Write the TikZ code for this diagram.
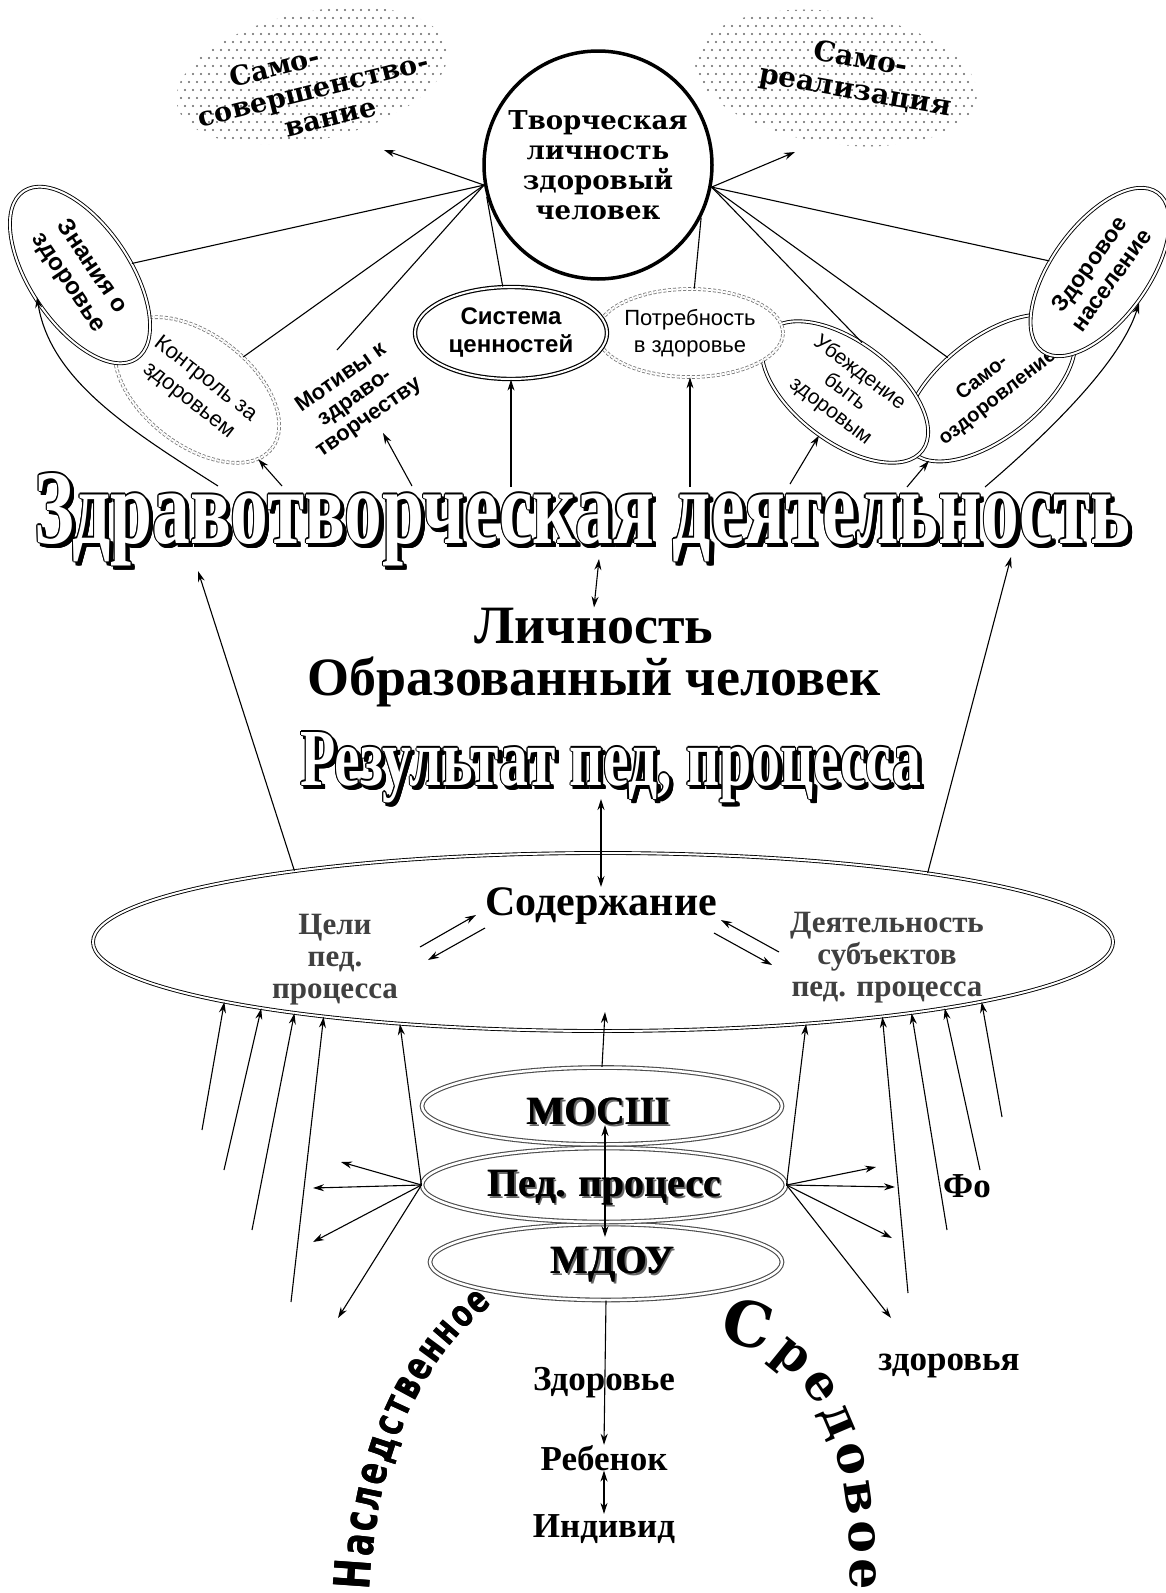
\documentclass[tikz,border=0pt]{standalone}
\usepackage{graphicx}
\usepackage{fontspec}
\setmainfont{Liberation Serif}
\newfontfamily\sansf{Liberation Sans}
\newfontfamily\bookf{DejaVu Serif}
\newfontfamily\condf[FakeStretch=0.72]{DejaVu Sans}
\usetikzlibrary{arrows.meta,shapes.geometric,decorations.text}
\newcommand\fsz[1]{\fontsize{#1}{#1}\selectfont}
\newcommand\fszl[2]{\fontsize{#1}{#2}\selectfont}
\newcommand\arcf[1]{\bookf\bfseries\fontsize{#1}{#1}\selectfont}
\newcommand\arcs[1]{\condf\bfseries\fontsize{#1}{#1}\selectfont}
% outlined text with drop shadow: #1 name, #2 position, #3 anchor, #4 content
\newcommand\wordart[4]{%
  \foreach \dx/\dy in {2/2,3/3,4/4,4.5/4.5,2/4,4/2,3/4.5,4.5/3}{%
    \node[anchor=#3,inner sep=0pt,text=black,shift={(\dx,\dy)}] at (#2) {#4};}%
  \foreach \dx/\dy in {1.2/0,-1.2/0,0/1.2,0/-1.2,0.85/0.85,-0.85/0.85,0.85/-0.85,-0.85/-0.85}{%
    \node[anchor=#3,inner sep=0pt,text=black,shift={(\dx,\dy)}] at (#2) {#4};}%
  \node[anchor=#3,inner sep=0pt,text=white] (#1) at (#2) {#4};}
\newcommand\shtext[4]{%
  \node[anchor=#3,inner sep=0pt,text=black!60,shift={(2.5,2.5)}] at (#2) {#4};
  \node[anchor=#3,inner sep=0pt,text=black,shift={(0.7,0)}] at (#2) {#4};
  \node[anchor=#3,inner sep=0pt,text=black] (#1) at (#2) {#4};}
\begin{document}
\begin{tikzpicture}[x=1pt,y=-1pt,
  conn/.style={line width=1.1pt},
  arr/.style={line width=1.1pt,-{Stealth[length=11pt,width=7pt]}},
  darr/.style={line width=1.1pt,{Stealth[length=11pt,width=7pt]}-{Stealth[length=11pt,width=7pt]}},
  bell/.style={ellipse,draw,double,double distance=2pt,line width=0.9pt,fill=white,inner sep=0pt,align=center},
  gell/.style={ellipse,draw=black!55,double,double distance=2pt,line width=0.8pt,densely dashed,fill=white,inner sep=0pt,align=center},
  lell/.style={ellipse,draw=black!70,double,double distance=2.5pt,line width=1.1pt,fill=white,inner sep=0pt},
  plain/.style={font=\bfseries\fsz{35},anchor=base,inner sep=0pt}]
\fill[white] (0,0) rectangle (1166,1593);
\useasboundingbox (0,0) rectangle (1166,1593);

% ---------- dotted clouds ----------
\begin{scope}
  \clip[rotate around={12:(312,76)}] (312,76) ellipse [x radius=138, y radius=64];
  \foreach \i in {0,...,38}{\foreach \j in {0,...,18}{\fill[black!60] ({165+\i*8+mod(\j,2)*4},{2+\j*8}) circle (1.1);}}
\end{scope}
\begin{scope}
  \clip[rotate around={-8:(836,78)}] (836,78) ellipse [x radius=142, y radius=66];
  \foreach \i in {0,...,38}{\foreach \j in {0,...,18}{\fill[black!60] ({688+\i*8+mod(\j,2)*4},{2+\j*8}) circle (1.1);}}
\end{scope}
\node[rotate=14,font=\bookf\bfseries\fszl{27}{31},align=center] (samosov) at (313,89) {Само-\hspace*{64pt}\\совершенство-\\\hspace*{20pt}вание};
\node[rotate=-10,font=\bookf\bfseries\fszl{28}{32},align=center] (samoreal) at (858,76) {Само-\\реализация};

% ---------- central circle ----------
\node[circle,draw,line width=3.5pt,minimum size=228pt,inner sep=0pt,align=center,fill=white,
  font=\bookf\bfseries\fszl{26}{30}] (tl) at (598,165) {Творческая\\личность\\здоровый\\человек};

% ---------- upper ellipses ----------
\node[gell,minimum width=190pt,minimum height=110pt,rotate=-38,font=\sansf\fszl{22}{27}] (kontrol) at (197,390) {Контроль за\\здоровьем};
\node[bell,minimum width=202pt,minimum height=100pt,rotate=-56,font=\sansf\bfseries\fszl{24}{28}] (znania) at (80,275) {Знания о\\здоровье};
\node[bell,minimum width=190pt,minimum height=100pt,rotate=38,font=\sansf\bfseries\fszl{20}{25}] (samooz) at (990,388) {Само-\\оздоровление};
\node[bell,minimum width=196pt,minimum height=96pt,rotate=54,font=\sansf\bfseries\fszl{23}{27}] (zdorovoe) at (1100,272) {Здоровое\\население};
\node[bell,minimum width=194pt,minimum height=100pt,rotate=-37,font=\sansf\fszl{21}{24}] (ubezh) at (845,392) {Убеждение\\быть\\здоровым};
\node[gell,minimum width=186pt,minimum height=88pt,font=\sansf\fszl{22}{27}] (potreb) at (690,333) {Потребность\\в здоровье};
\node[bell,line width=1.2pt,minimum width=192pt,minimum height=92pt,font=\sansf\bfseries\fszl{24}{28}] (sistema) at (511,333) {Система\\ценностей};
\node[rotate=35,font=\sansf\bfseries\fszl{22}{24},align=center] (motivy) at (355,398) {Мотивы к\\здраво-\\творчеству};

% ---------- connectors at the top ----------
\coordinate (cl-in) at (384,150);
\coordinate (cr-in) at (795,152);
\coordinate (mot-top) at (337,350);
\draw[arr] (tl.190) -- (cl-in);
\draw[arr] (tl.-11) -- (cr-in);
\draw[conn] (tl.190) -- (znania);
\draw[conn] (tl.190) -- (kontrol);
\draw[conn] (tl.190) -- (mot-top);
\draw[conn] (tl.196) -- (sistema);
\draw[conn] (tl.-27) -- (potreb);
\draw[conn] (tl.-11) -- (ubezh.108);
\draw[conn] (tl.-11) -- (samooz);
\draw[conn] (tl.-11) -- (zdorovoe);

% ---------- title ----------
\wordart{title}{34,543}{base west}{\resizebox{1096pt}{70pt}{\fsz{100}\bfseries Здравотворческая деятельность}}

\coordinate (t-zn) at (218,486);
\coordinate (t-ko) at (282,486);
\coordinate (t-mo) at (412,486);
\coordinate (t-si) at (511,487);
\coordinate (t-po) at (690,487);
\coordinate (t-ub) at (790,484);
\coordinate (t-sa) at (907,487);
\coordinate (t-zd) at (985,487);
\coordinate (zn-in) at (37,297);
\coordinate (mot-in) at (383,433);
\coordinate (zd-in) at (1139,303);
\draw[arr] (t-zn) .. controls (130,430) and (50,380) .. (zn-in);
\draw[arr] (t-ko) -- (kontrol);
\draw[arr] (t-mo) -- (mot-in);
\draw[arr] (t-si) -- (sistema);
\draw[arr] (t-po) -- (potreb);
\draw[arr] (t-ub) -- (ubezh);
\draw[arr] (t-sa) -- (samooz);
\draw[arr] (t-zd) .. controls (1040,440) and (1120,365) .. (zd-in);

% ---------- middle ----------
\node[font=\bfseries\fsz{54},anchor=base,inner sep=0pt] (lich) at (594,643) {Личность};
\node[font=\bfseries\fsz{54},anchor=base,inner sep=0pt] (obraz) at (594,695) {Образованный человек};
\wordart{result}{300,785}{base west}{\resizebox{621pt}{53pt}{\fsz{100}\bfseries Результат пед, процесса}}
\coordinate (t-lich) at (599,559);
\coordinate (res-bot) at (601,799);
\draw[darr] (t-lich) -- (lich.north);

% ---------- big ellipse ----------
\node[bell,minimum width=1020pt,minimum height=178pt] (bigell) at (603,942) {};
\node[font=\bfseries\fsz{42},anchor=base,inner sep=0pt] (soderzh) at (601,915) {Содержание};
\node[font=\bfseries\fszl{31}{32},text=black!75,align=center] (celi) at (335,960) {Цели\\пед.\\процесса};
\node[font=\bfseries\fszl{31}{32},text=black!75,align=center] (deyat) at (887,958) {Деятельность\\субъектов\\пед. процесса};
\draw[darr] (res-bot) -- (soderzh.north);
\coordinate (tt-l) at (198,571);
\coordinate (tt-r) at (1011,557);
\draw[arr] (bigell.167.5) -- (tt-l);
\draw[arr] (bigell.12) -- (tt-r);
\coordinate (a1s) at (420,947); \coordinate (a1e) at (476,915);
\coordinate (a2s) at (485,928); \coordinate (a2e) at (428,960);
\coordinate (a3s) at (779,952); \coordinate (a3e) at (721,920);
\coordinate (a4s) at (714,933); \coordinate (a4e) at (772,965);
\draw[arr] (a1s) -- (a1e);
\draw[arr] (a2s) -- (a2e);
\draw[arr] (a3s) -- (a3e);
\draw[arr] (a4s) -- (a4e);

% ---------- lower ellipses ----------
\node[lell,minimum width=360pt,minimum height=77pt] (mossh) at (602,1106) {};
\node[lell,minimum width=352pt,minimum height=76pt] (mdou) at (606,1262) {};
\node[lell,minimum width=364pt,minimum height=74pt] (ped) at (604,1185) {};
\shtext{mosshT}{598,1124}{base}{\bfseries\fsz{40}МОСШ}
\shtext{pedT}{604,1196}{base}{\bfseries\fsz{40}Пед. процесс}
\shtext{mdouT}{612,1273}{base}{\bfseries\fsz{40}МДОУ}

\coordinate (ms-tip) at (605,1012);
\coordinate (pd-t) at (605,1125);
\coordinate (pd-b) at (605,1237);
\draw[arr] (mossh.north) -- (ms-tip);
\draw[darr] (pd-t) -- (pd-b);
\draw[arr] (ped.west) -- (bigell.202.4);
\draw[arr] (ped.east) -- (bigell.-22);

% upward lines to big ellipse
\coordinate (l1) at (202,1130); \coordinate (l2) at (224,1170);
\coordinate (l3) at (252,1230); \coordinate (l4) at (291,1302);
\coordinate (r1) at (908,1293); \coordinate (r2) at (947,1230);
\coordinate (r3) at (980,1170); \coordinate (r4) at (1002,1117);
\draw[arr] (l1) -- (bigell.189.8);
\draw[arr] (l2) -- (bigell.191.4);
\draw[arr] (l3) -- (bigell.193.7);
\draw[arr] (l4) -- (bigell.195.9);
\draw[arr] (r1) -- (bigell.-15.5);
\draw[arr] (r2) -- (bigell.-13);
\draw[arr] (r3) -- (bigell.-11);
\draw[arr] (r4) -- (bigell.-9.4);

% side arrows from the pedagogical process
\coordinate (sl1) at (341,1162); \coordinate (sl2) at (313,1188);
\coordinate (sl3) at (313,1242); \coordinate (sl4) at (338,1318);
\coordinate (sr1) at (876,1167); \coordinate (sr2) at (895,1187);
\coordinate (sr3) at (892,1238); \coordinate (sr4) at (891,1318);
\foreach \t in {sl1,sl2,sl3,sl4}{\draw[arr] (ped.west) -- (\t);}
\foreach \t in {sr1,sr2,sr3,sr4}{\draw[arr] (ped.east) -- (\t);}

% ---------- bottom ----------
\node[plain] (rebenok) at (604,1470) {Ребенок};
\node[plain] (individ) at (604,1537) {Индивид};
\draw[arr] (mdou.south) -- (rebenok.north);
\node[plain] (zdorovie) at (604,1390) {Здоровье};
\draw[darr] (rebenok.south) -- (individ.north);
\node[plain] (fo) at (967,1197) {Фо};
\node[plain] (zdorovya) at (949,1370) {здоровья};

\coordinate (n-start) at (370,1590);
\coordinate (n-end) at (492,1304);
\foreach \s in {0,0.8}{
\path[shift={(\s,0)},decorate,decoration={text along path,text align=fit to path,
  text={|\arcs{50}|Н|\arcs{46}|ас|\arcs{44}|лед|\arcs{42}|ств|\arcs{40}|енн|\arcs{38}|ое}}]
  (n-start) .. controls (376,1460) and (416,1366) .. (n-end);}
\coordinate (s-start) at (718,1342);
\coordinate (s-end) at (850,1590);
\path[decorate,decoration={text along path,text align=fit to path,
  text={|\arcf{62}|С|\arcf{49}|редовое}}]
  (s-start) .. controls (800,1345) and (856,1430) .. (s-end);
\end{tikzpicture}
\end{document}
